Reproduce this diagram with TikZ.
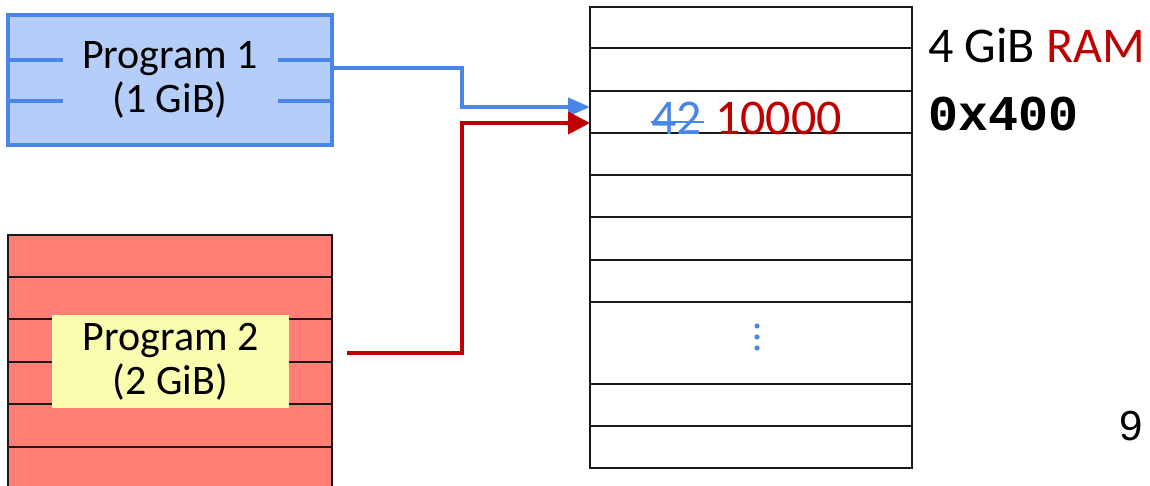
\documentclass[tikz,border=0pt]{standalone}
\usepackage{fontspec}
\setmainfont{Carlito}
\newfontfamily\codefont{Liberation Mono}
\newfontfamily\numfont{Liberation Sans}
\usetikzlibrary{arrows.meta,calc}
\definecolor{progblue}{HTML}{4A86E8}
\definecolor{progbluefill}{HTML}{B5CDF9}
\definecolor{progred}{HTML}{FF7F77}
\definecolor{labelyellow}{HTML}{FAFDB0}
\definecolor{darkred}{HTML}{C00000}

\begin{document}
\begin{tikzpicture}[x=1pt,y=-1pt,
  bigtext/.style={font=\fontsize{42}{44}\selectfont, align=center},
  valtext/.style={anchor=base west, inner sep=0pt, font=\fontsize{50}{60}\selectfont},
  rowline/.style={draw=black!90, line width=1.8pt},
  bluelink/.style={draw=progblue, line width=4pt, -{Triangle[length=22pt,width=18pt]}},
  redlink/.style={draw=darkred, line width=4pt, -{Triangle[length=22pt,width=22pt]}}
]
\useasboundingbox (0,0) rectangle (1150,486);

% Program 1 block
\node[draw=progblue, fill=progbluefill, line width=4pt, minimum width=324pt,
      minimum height=130pt, inner sep=0pt, bigtext] (p1) at (170,80) {Program 1\\(1 GiB)};
\draw[progblue, line width=4pt] (8,60) -- (63,60) (8,101) -- (63,101)
                                (278,60) -- (332,60) (278,101) -- (332,101);

% Program 2 block
\node[draw=black!90, fill=progred, line width=1.8pt, minimum width=324pt,
      minimum height=260pt, inner sep=0pt] (p2box) at (170,365) {};
\foreach \y in {277,319,362,404,447}
  \draw[rowline] (8,\y) -- (332,\y);
\node[fill=labelyellow, minimum width=237pt, minimum height=93pt, inner sep=0pt,
      bigtext] (p2) at (170.5,361.5) {Program 2\\(2 GiB)};

% physical memory
\node[draw=black!90, line width=1.8pt, minimum width=322pt, minimum height=461pt,
      inner sep=0pt] (ram) at (751,237.5) {};
\foreach \y in {48,91,133,175,217,260,302,384,426}
  \draw[rowline] (590,\y) -- (912,\y);
\foreach \y in {326,337,348}
  \fill[progblue] (757,\y) circle (2.6pt);

% mappings into memory
\coordinate (b0) at (332,68);
\coordinate (bt) at (590,107);
\coordinate (r0) at (347,353);
\coordinate (rt) at (590,123);
\draw[bluelink] (b0) -- (462,68) -- (462,107) -- (bt);
\draw[redlink] (r0) -- (462,353) -- (462,123) -- (rt);

% cell contents
\node[valtext, text=progblue] (old) at (651,135) {42};
\draw[progblue, line width=2pt] ($(old.base west)+(0,-13)$) -- ($(old.base east)+(2,-13)$);
\node[valtext, text=darkred] (new) at (715,135) {10000};

% labels
\node[valtext] (size) at (928,63) {4 GiB \textcolor{darkred}{RAM}};
\node[valtext, font=\codefont\bfseries\fontsize{50}{60}\selectfont] (addr) at (928,131) {0x400};
\node[anchor=base west, inner sep=0pt, font=\numfont\fontsize{42}{50}\selectfont] (pg) at (1119,440) {9};
\end{tikzpicture}
\end{document}
